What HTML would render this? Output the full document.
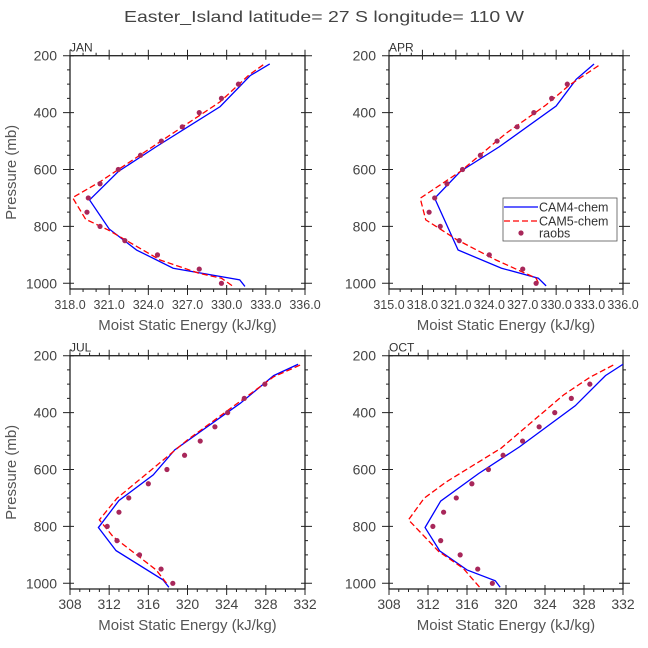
<!DOCTYPE html>
<html><head><meta charset="utf-8">
<style>
html,body{margin:0;padding:0;background:#fff;}
svg{display:block;font-family:"Liberation Sans",sans-serif;}
</style></head>
<body>
<svg id="chart" width="648" height="648" viewBox="0 0 648 648" xmlns="http://www.w3.org/2000/svg">
<rect width="648" height="648" fill="#fff"/>
<text x="324" y="22" text-anchor="middle" font-size="16" fill="#444" textLength="400" lengthAdjust="spacingAndGlyphs">Easter_Island  latitude= 27 S longitude= 110 W</text>
</svg>
<script>
// ---- data ----
const months = ["JAN","APR","JUL","OCT"];
const janCam4P = [229,270,379,520,607,707,809,883,947,988,1011];
const janCam4E = [333.3,331.8,329.5,324.6,321.7,319.5,321.0,323.1,325.9,331.0,331.4];
const janCam5P = [232,268,362,643,699,775,812,918,965,982,1011];
const janCam5E = [332.8,331.7,329.5,320.3,318.2,319.2,320.9,324.9,327.9,329.6,330.5];
const raobP = [300,350,400,450,500,550,600,650,700,750,800,850,900,950,1000];
const janRaobE = [330.9,329.6,327.9,326.6,325.0,323.4,321.7,320.3,319.4,319.3,320.3,322.2,324.7,327.9,329.6];

const aprCam4P = [229,283,377,520,607,701,883,947,982,1009];
const aprCam4E = [333.4,331.8,330.0,324.9,321.4,319.1,321.2,325.1,328.4,329.1];
const aprCam5P = [235,303,373,473,607,701,777,847,918,982,1006];
const aprCam5E = [333.8,331.2,329.1,325.5,321.4,317.8,318.3,321.1,324.6,328.2,328.5];
const aprRaobE = [331.0,329.6,328.0,326.5,324.7,323.2,321.6,320.2,319.1,318.6,319.6,321.3,324.0,327.0,328.2];

const julCam4P = [230,270,367,531,619,709,804,885,988,1014];
const julCam4E = [331.3,328.8,325.4,318.7,316.5,313.0,310.9,312.7,317.5,318.1];
const julCam5P = [233,274,496,701,777,836,953,1006];
const julCam5E = [331.5,328.8,320.0,312.8,311.0,312.4,316.8,318.0];
const julRaobE = [327.9,325.8,324.1,322.8,321.3,319.7,317.9,316.0,314.0,313.0,311.8,312.8,315.1,317.3,318.5];

const octCam4P = [230,270,376,520,614,711,804,886,953,991,1014];
const octCam4E = [332.0,330.2,327.1,321.4,317.2,313.3,311.7,313.2,316.0,318.9,319.4];
const octCam5P = [233,276,338,525,643,701,777,888,947,1014];
const octCam5E = [331.0,328.6,325.9,319.5,313.9,311.6,310.0,313.1,315.6,317.3];
const octRaobE = [328.6,326.7,325.0,323.4,321.7,319.7,318.2,316.5,314.9,313.6,312.5,313.3,315.3,317.1,318.6];

const xMins = [318,315,308,308];
const xMaxs = [336,336,332,332];
const xSteps = [3,3,4,4];
const xDecimals = [1,1,0,0];
const yTicks = [200,400,600,800,1000];

const panelData = [
 {c4p:janCam4P,c4e:janCam4E,c5p:janCam5P,c5e:janCam5E,re:janRaobE},
 {c4p:aprCam4P,c4e:aprCam4E,c5p:aprCam5P,c5e:aprCam5E,re:aprRaobE},
 {c4p:julCam4P,c4e:julCam4E,c5p:julCam5P,c5e:julCam5E,re:julRaobE},
 {c4p:octCam4P,c4e:octCam4E,c5p:octCam5P,c5e:octCam5E,re:octRaobE}
];
const boxes = [
 {l:70,r:305,t:55.7,b:289},
 {l:389,r:623,t:55.7,b:289},
 {l:70,r:305,t:355.7,b:589},
 {l:389,r:623,t:355.7,b:589}
];

const NS="http://www.w3.org/2000/svg";
const svg=document.getElementById('chart');
function mk(tag,attrs,parent){const e=document.createElementNS(NS,tag);for(const k in attrs)e.setAttribute(k,attrs[k]);(parent||svg).appendChild(e);return e;}

for(let i=0;i<4;i++){
  const B=boxes[i], d=panelData[i];
  const pMin=200,pMax=1020;
  const xs=v=>B.l+(v-xMins[i])/(xMaxs[i]-xMins[i])*(B.r-B.l);
  const ys=p=>B.t+(p-pMin)/(pMax-pMin)*(B.b-B.t);
  const g=mk('g',{});
  
  
  let tk='';
  for(let p=200;p<=1000;p+=50){
    const y=ys(p); const maj=(p%200===0);
    const L=maj?7:3;
    tk+=`M${B.l-L},${y}H${B.l+(maj?4:0)}M${B.r-(maj?4:0)},${y}H${B.r+L}`;
  }
  for(let v=xMins[i];v<=xMaxs[i]+1e-6;v+=1){
    const x=xs(v); const maj=Math.abs((v-xMins[i])%xSteps[i])<1e-6;
    const L=maj?6:3;
    tk+=`M${x},${B.b-(maj?4:0)}V${B.b+L}M${x},${B.t-L}V${B.t+(maj?4:0)}`;
  }
  const ticks=mk('path',{d:tk,stroke:'#222','stroke-width':1,fill:'none'},g);
  
  
  const frame=mk('rect',{x:B.l,y:B.t,width:B.r-B.l,height:B.b-B.t,fill:'none',stroke:'#222','stroke-width':1.3},g);
  
  
  yTicks.forEach(p=>{
    const t=mk('text',{x:B.l-13,y:ys(p)+5,'text-anchor':'end','font-size':14,fill:'#444'},g);
    t.textContent=p;
    
    
  });
  for(let v=xMins[i];v<=xMaxs[i]+1e-6;v+=xSteps[i]){
    const t=mk('text',{x:xs(v),y:B.b+20,'text-anchor':'middle','font-size':xDecimals[i]?12.5:14,fill:'#444'},g);
    t.textContent=v.toFixed(xDecimals[i]);
    
    
  }
  const mt=mk('text',{x:B.l,y:B.t-4,'font-size':12,fill:'#333'},g);
  mt.textContent=months[i];
  
  
  const xt=mk('text',{x:(B.l+B.r)/2,y:B.b+41,'text-anchor':'middle','font-size':15,fill:'#555'},g);
  xt.textContent='Moist Static Energy (kJ/kg)';
  
  
  if(i%2===0){
    const cy=(B.t+B.b)/2;
    const yt=mk('text',{x:16,y:cy,'text-anchor':'middle','font-size':15,fill:'#555',transform:`rotate(-90 16 ${cy})`},g);
    yt.textContent='Pressure (mb)';
    
    
  }
  const l4=mk('polyline',{points:d.c4p.map((p,k)=>xs(d.c4e[k])+','+ys(p)).join(' '),fill:'none',stroke:'#0000ff','stroke-width':1.3},g);
  
  
  const l5=mk('polyline',{points:d.c5p.map((p,k)=>xs(d.c5e[k])+','+ys(p)).join(' '),fill:'none',stroke:'#ff0000','stroke-width':1.3,'stroke-dasharray':'6,3'},g);
  
  
  raobP.forEach((p,k)=>{
    const c=mk('circle',{cx:xs(d.re[k]),cy:ys(p),r:2.6,fill:'#a8275a'},g);
    
    
  });
}
const lg=mk('g',{});


mk('rect',{x:503,y:198,width:114,height:43,fill:'#fff',stroke:'#555','stroke-width':0.8},lg);
const e1=mk('g',{},lg);


mk('line',{x1:504,y1:207,x2:538,y2:207,stroke:'#0000ff','stroke-width':1.3},e1);
const t1=mk('text',{x:539,y:211.5,'font-size':12.5,fill:'#333'},e1);t1.textContent='CAM4-chem';
const e2=mk('g',{},lg);


mk('line',{x1:504,y1:221,x2:538,y2:221,stroke:'#ff0000','stroke-width':1.3,'stroke-dasharray':'6,3'},e2);
const t2=mk('text',{x:539,y:225.5,'font-size':12.5,fill:'#333'},e2);t2.textContent='CAM5-chem';
const e3=mk('g',{},lg);


mk('circle',{cx:521,cy:233,r:2.6,fill:'#a8275a'},e3);
const t3=mk('text',{x:539,y:237.5,'font-size':12.5,fill:'#333'},e3);t3.textContent='raobs';
</script>
</body></html>
